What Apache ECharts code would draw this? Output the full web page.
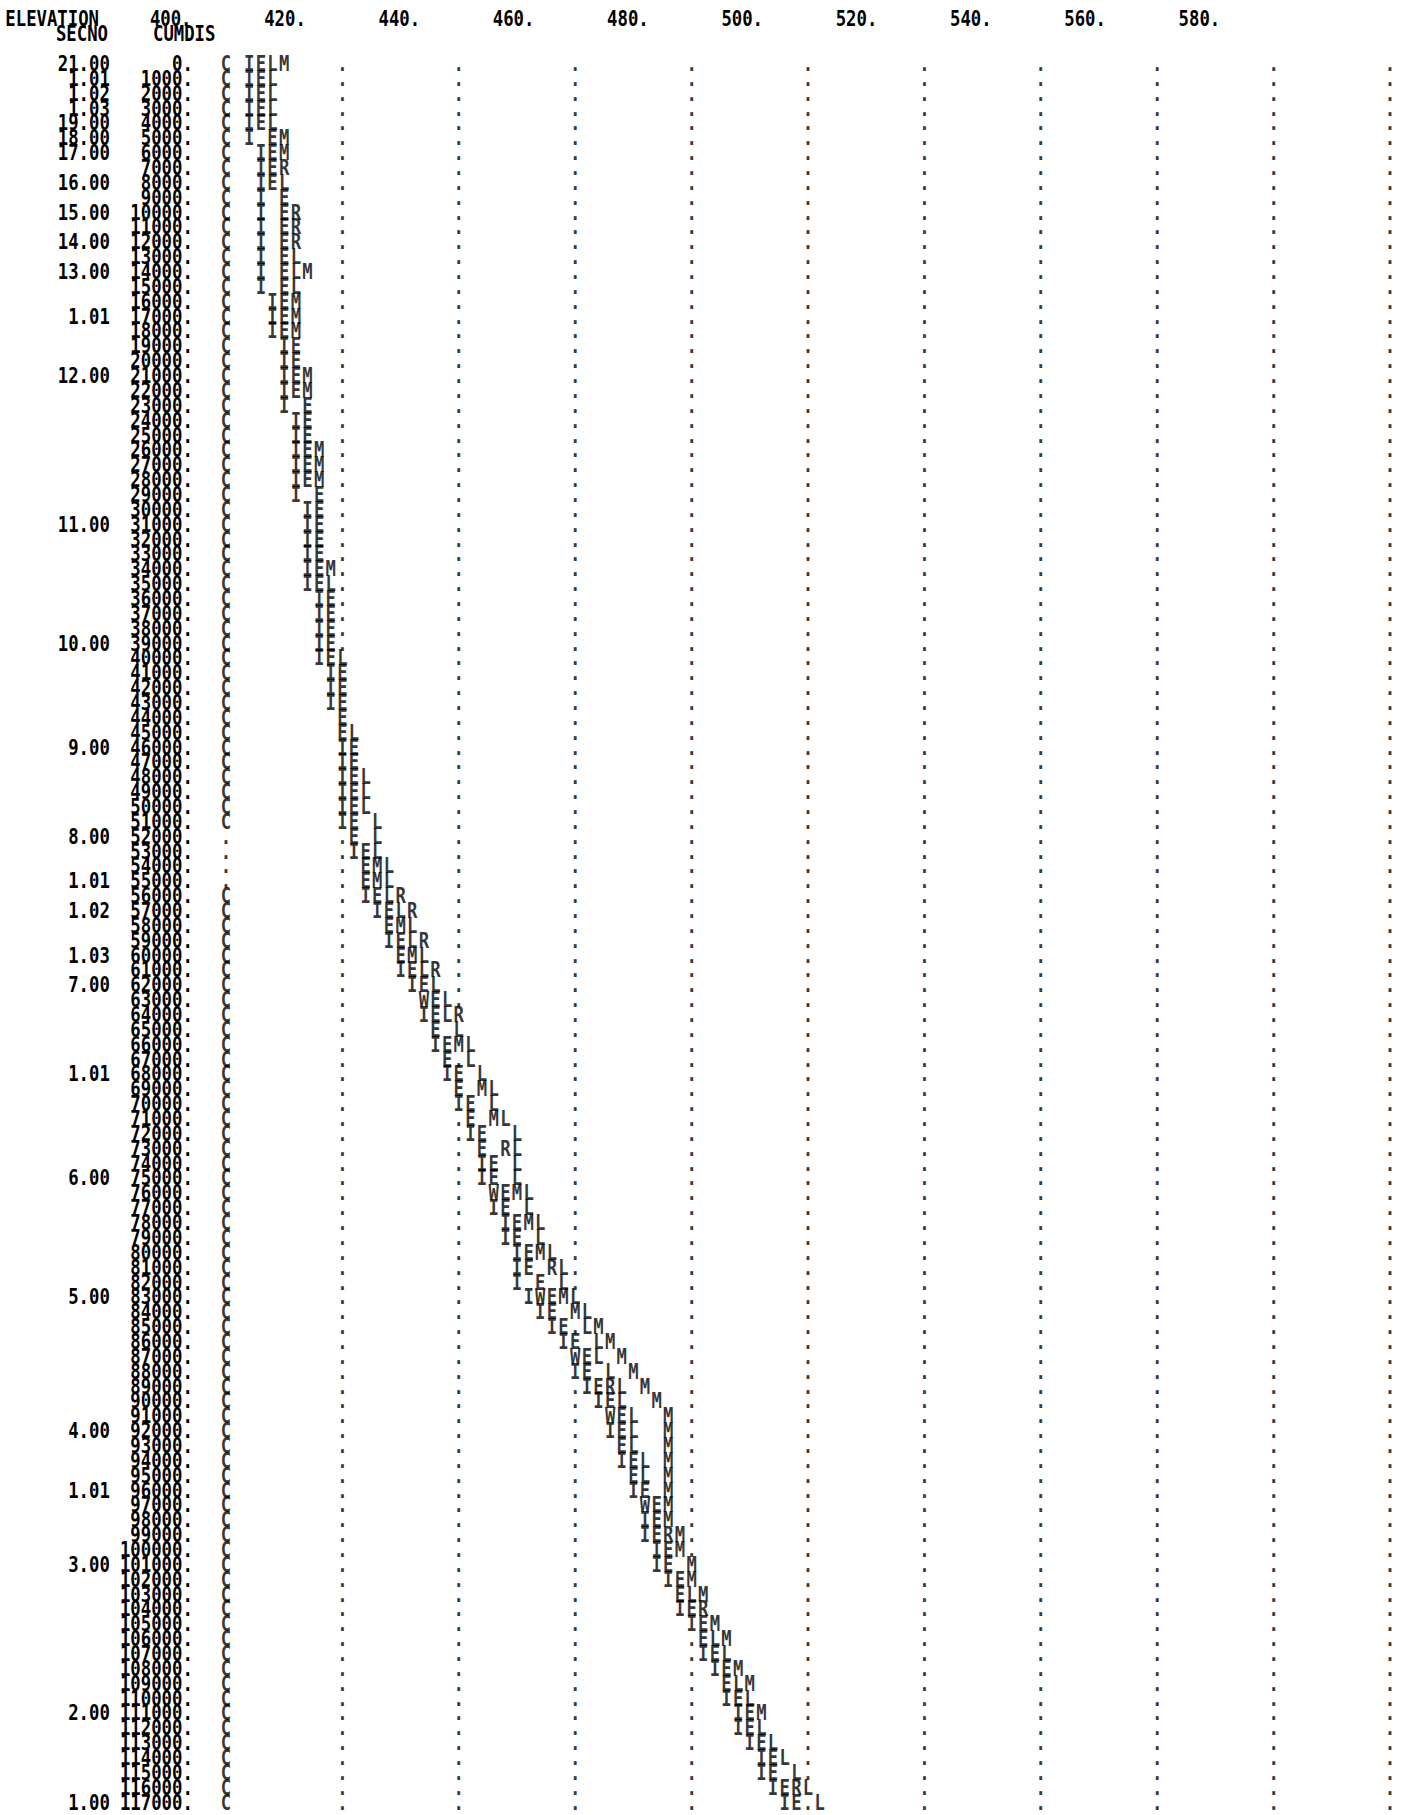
<!DOCTYPE html>
<html>
<head>
<meta charset="utf-8">
<script src="https://cdn.jsdelivr.net/npm/echarts/dist/echarts.min.js"></script>
<style>
  html, body { margin: 0; padding: 0; background: #fff; }
  #page { position: relative; width: 1403px; height: 1815px; overflow: hidden; background: #fff; }
  /* printer-style glyphs are tall and narrow: draw at 1/1.2 height and stretch vertically */
  #chart { position: absolute; left: 0; top: 0; width: 1403px; height: 1512.5px; transform: scaleY(1.2); transform-origin: 0 0; }
</style>
</head>
<body>
<div id="page"><div id="chart"></div></div>
<script>
// Cumulative distance of each cross section (rows of the profile plot)
const cumdis = [
  0,1000,2000,3000,4000,5000,6000,7000,8000,9000,
  10000,11000,12000,13000,14000,15000,16000,17000,18000,19000,
  20000,21000,22000,23000,24000,25000,26000,27000,28000,29000,
  30000,31000,32000,33000,34000,35000,36000,37000,38000,39000,
  40000,41000,42000,43000,44000,45000,46000,47000,48000,49000,
  50000,51000,52000,53000,54000,55000,56000,57000,58000,59000,
  60000,61000,62000,63000,64000,65000,66000,67000,68000,69000,
  70000,71000,72000,73000,74000,75000,76000,77000,78000,79000,
  80000,81000,82000,83000,84000,85000,86000,87000,88000,89000,
  90000,91000,92000,93000,94000,95000,96000,97000,98000,99000,
  100000,101000,102000,103000,104000,105000,106000,107000,108000,109000,
  110000,111000,112000,113000,114000,115000,116000,117000
];

// Section numbers printed beside some of the rows
const secnoAt = [0,1000,2000,3000,4000,5000,6000,8000,10000,12000,14000,17000,21000,31000,39000,46000,
  52000,55000,57000,60000,62000,68000,75000,83000,92000,96000,101000,111000,117000];
const secnoText = ['21.00','1.01','1.02','1.03','19.00','18.00','17.00','16.00','15.00','14.00','13.00','1.01','12.00',
  '11.00','10.00','9.00','8.00','1.01','1.02','1.03','7.00','1.01','6.00','5.00','4.00','1.01','3.00','2.00','1.00'];

// Elevation header ticks
const elevTicks = [400,420,440,460,480,500,520,540,560,580];
// Dotted guide columns
const guideElev = [410,430,450,470,490,510,530,550,570,590,610];

const _ = null;
// I - invert
const invert = [
  414,414,414,414,414,414,416,416,416,416,
  416,416,416,416,416,416,418,418,418,420,
  420,420,420,420,422,422,422,422,422,422,
  424,424,424,424,424,424,426,426,426,426,
  426,428,428,428,_,_,430,430,430,430,
  430,430,_,432,_,_,434,436,_,438,
  _,440,442,_,444,_,446,_,448,_,
  450,_,452,_,454,454,_,456,458,458,
  460,460,460,462,464,466,468,_,470,472,
  474,_,476,_,478,_,480,_,482,482,
  484,484,486,_,488,490,_,492,494,_,
  496,498,498,500,502,502,504,506
];
// E - energy gradient
const energy = [
  416,416,416,416,416,418,418,418,418,420,
  420,420,420,420,420,420,420,420,420,422,
  422,422,422,424,424,424,424,424,424,426,
  426,426,426,426,426,426,428,428,428,428,
  428,430,430,430,430,430,432,432,432,432,
  432,432,432,434,434,434,436,438,438,440,
  440,442,444,446,446,446,448,448,450,450,
  452,452,454,454,456,456,458,458,460,460,
  462,462,464,466,466,468,470,472,472,474,
  476,478,478,478,480,480,482,484,484,484,
  486,486,488,488,490,492,492,494,496,496,
  498,500,500,502,504,504,506,508
];
// W - water surface (where it does not coincide with E)
const water = [
  _,_,_,_,_,_,_,_,_,_,
  _,_,_,_,_,_,_,_,_,_,
  _,_,_,_,_,_,_,_,_,_,
  _,_,_,_,_,_,_,_,_,_,
  _,_,_,_,_,_,_,_,_,_,
  _,_,_,_,_,_,_,_,_,_,
  _,_,_,444,_,_,_,_,_,_,
  _,_,_,_,_,_,456,_,_,_,
  _,_,_,464,_,_,_,470,_,_,
  _,476,_,_,_,_,_,482,_,_,
  _,_,_,_,_,_,_,_,_,_,
  _,_,_,_,_,_,_,_
];
// L - left bank
const leftBank = [
  418,418,418,418,418,_,_,_,420,_,
  _,_,_,422,422,422,_,_,_,_,
  _,_,_,_,_,_,_,_,_,_,
  _,_,_,_,_,428,_,_,_,_,
  430,_,_,_,_,432,_,_,434,434,
  434,436,436,436,438,438,438,440,442,442,
  444,444,446,448,448,450,452,452,454,456,
  456,458,460,460,460,460,462,462,464,464,
  466,468,468,470,472,472,474,474,476,478,
  478,480,480,480,482,482,_,_,_,_,
  _,_,_,490,_,_,494,496,_,498,
  500,_,502,504,506,508,510,512
];
// R - right bank
const rightBank = [
  _,_,_,_,_,_,_,420,_,_,
  422,422,422,_,_,_,_,_,_,_,
  _,_,_,_,_,_,_,_,_,_,
  _,_,_,_,_,_,_,_,_,_,
  _,_,_,_,_,_,_,_,_,_,
  _,_,_,_,_,_,440,442,_,444,
  _,446,_,_,450,_,_,_,_,_,
  _,_,_,458,_,_,_,_,_,_,
  _,466,_,_,_,_,_,_,_,476,
  _,_,_,_,_,_,_,_,_,486,
  _,_,_,_,492,_,_,_,_,_,
  _,_,_,_,_,_,508,_
];
// M
const mElev = [
  420,_,_,_,_,420,420,_,_,_,
  _,_,_,_,424,_,422,422,422,_,
  _,424,424,_,_,_,426,426,426,_,
  _,_,_,_,428,_,_,_,_,_,
  _,_,_,_,_,_,_,_,_,_,
  _,_,_,_,436,436,_,_,440,_,
  442,_,_,_,_,_,450,_,_,454,
  _,456,_,_,_,_,460,_,462,_,
  464,_,_,468,470,474,476,478,480,482,
  484,486,486,486,486,486,486,486,486,488,
  488,490,490,492,_,494,496,_,498,500,
  _,502,_,_,_,_,_,_
];
// C - critical water surface column
const critical = cumdis.map((d, i) => (i >= 52 && i <= 55) ? _ : 410);

const INK = '#000';
const FONT = '"DejaVu Sans Mono", "Liberation Mono", monospace';
const FS = 17.3;
const ROW = 12.383;          // row pitch before vertical stretch
const TOP = 53.3;            // first row (CUMDIS 0)
const LEFT = 167.8;          // x of elevation 400 on the plot scale
const PX_PER_FT = 5.82;      // plot columns
const HDR_PX_PER_FT = 5.715; // printed header line runs on a slightly tighter pitch
const HDR_SHIFT = 2.9;       // header "400." centre offset from the plot's 400
const STEP = 1000;           // station spacing of the rows

const glyph = { fontFamily: FONT, fontSize: FS, fontWeight: 'bold', color: INK, lineHeight: 11 };
const hidden = { axisLine: { show: false }, axisTick: { show: false }, splitLine: { show: false } };

function charSeries(name, ch, values) {
  const data = [];
  values.forEach((v, i) => { if (v != null) data.push([v, cumdis[i]]); });
  return {
    type: 'scatter', name, data, symbolSize: 1, silent: true, clip: false, animation: false,
    itemStyle: { color: 'rgba(0,0,0,0)' },
    label: Object.assign({ show: true, position: 'inside', formatter: ch }, glyph)
  };
}

const layers = [['I', invert], ['W', water], ['E', energy], ['L', leftBank], ['R', rightBank], ['M', mElev], ['C', critical]];

// grid dots wherever no symbol is printed
const used = new Set();
layers.forEach(([, arr]) => arr.forEach((v, i) => { if (v != null) used.add(v + '|' + i); }));
const dotVals = [];
cumdis.forEach((d, i) => guideElev.forEach(e => { if (!used.has(e + '|' + i)) dotVals.push([e, d]); }));

const series = layers.map(([ch, arr]) => charSeries(ch, ch, arr));
series.push({
  type: 'scatter', name: 'grid', data: dotVals, symbolSize: 1, silent: true, clip: false, animation: false,
  itemStyle: { color: 'rgba(0,0,0,0)' },
  label: Object.assign({ show: true, position: 'inside', formatter: '.' }, glyph)
});

const secnoMap = {};
secnoAt.forEach((d, i) => { secnoMap[d] = secnoText[i]; });

const chart = echarts.init(document.getElementById('chart'), null, { renderer: 'svg' });
const xMin = elevTicks[0];
const xMax = guideElev[guideElev.length - 1];
const gridW = PX_PER_FT * (xMax - xMin);
// header scale spanning the same pixels
const hdrMin = xMin - HDR_SHIFT / HDR_PX_PER_FT;
const hdrMax = hdrMin + gridW / HDR_PX_PER_FT;
// the distance axis runs one blank row beyond each end so every station keeps its label
const yMin = cumdis[0] - STEP;
const yMax = cumdis[cumdis.length - 1] + STEP;
const gridTop = TOP - ROW;
const gridH = ROW * (yMax - yMin) / STEP;

const yBase = Object.assign({
  type: 'value', inverse: true, min: yMin, max: yMax, interval: STEP, position: 'left'
}, hidden);
const inRange = v => v >= cumdis[0] && v <= cumdis[cumdis.length - 1];

chart.setOption({
  backgroundColor: '#fff',
  animation: false,
  grid: { left: LEFT, top: gridTop, width: gridW, height: gridH, containLabel: false, outerBoundsMode: 'none' },
  xAxis: [
    Object.assign({ type: 'value', position: 'top', min: xMin, max: xMax, axisLabel: { show: false } }, hidden),
    Object.assign({
      type: 'value', position: 'top', min: hdrMin, max: hdrMax,
      axisLabel: Object.assign({
        customValues: elevTicks, formatter: v => v + '.',
        margin: 2 * ROW, verticalAlign: 'middle', showMinLabel: true, showMaxLabel: true
      }, glyph)
    }, hidden)
  ],
  yAxis: [
    Object.assign({}, yBase, {
      axisLabel: Object.assign({ formatter: v => (inRange(v) ? v + '.' : ''), margin: -25, align: 'right',
        showMinLabel: false, showMaxLabel: false }, glyph)
    }),
    Object.assign({}, yBase, {
      offset: 50,
      axisLabel: Object.assign({ formatter: v => secnoMap[v] || '', margin: 8, align: 'right',
        showMinLabel: false, showMaxLabel: false }, glyph)
    })
  ],
  graphic: [
    { type: 'text', silent: true, style: { text: 'ELEVATION', x: 99, y: TOP - 3 * ROW, font: 'bold 17.3px ' + FONT, fill: INK, textAlign: 'right', textVerticalAlign: 'middle', align: 'right', verticalAlign: 'middle' } },
    { type: 'text', silent: true, style: { text: 'SECNO', x: 108, y: TOP - 2 * ROW, font: 'bold 17.3px ' + FONT, fill: INK, textAlign: 'right', textVerticalAlign: 'middle', align: 'right', verticalAlign: 'middle' } },
    { type: 'text', silent: true, style: { text: 'CUMDIS', x: 153, y: TOP - 2 * ROW, font: 'bold 17.3px ' + FONT, fill: INK, textAlign: 'left', textVerticalAlign: 'middle', align: 'left', verticalAlign: 'middle' } }
  ],
  series
});
</script>
</body>
</html>
